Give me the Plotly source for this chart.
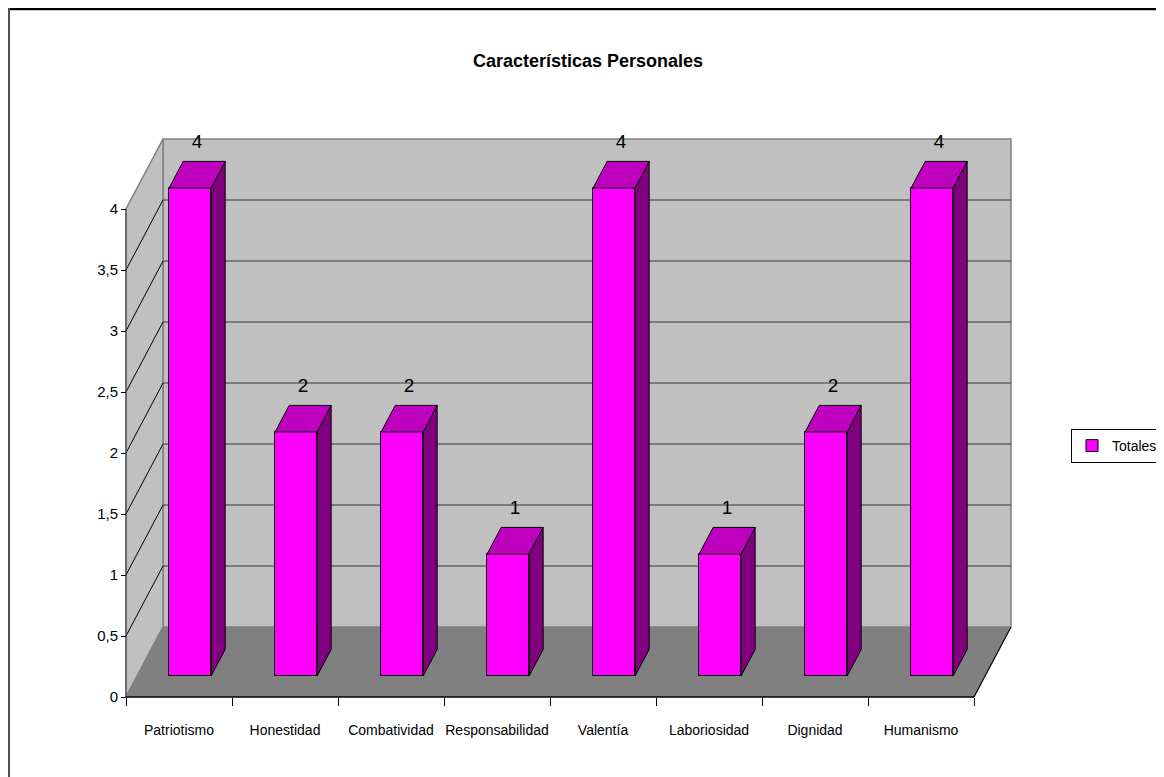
import plotly.graph_objects as go

# ---------------- data ----------------
categories = ["Patriotismo", "Honestidad", "Combatividad", "Responsabilidad",
              "Valentía", "Laboriosidad", "Dignidad", "Humanismo"]
values = [4, 2, 2, 1, 4, 1, 2, 4]
series_name = "Totales"
y_tick_vals = [0, 0.5, 1, 1.5, 2, 2.5, 3, 3.5, 4]
y_tick_text = ["0", "0,5", "1", "1,5", "2", "2,5", "3", "3,5", "4"]
title_text = "Características Personales"

# ---------------- geometry / style (reference pixel coords) ----------------
WIN_W, WIN_H = 1164, 777
OFF = 8                      # page body margin
FW, FH = WIN_W - OFF, WIN_H - OFF
X0PX, XUNIT = 126, 106      # pixel of the first category boundary, px per category
Y0PX, YUNIT = 697, 122      # pixel of value 0 on front axis, px per unit
L, R, T, B = 110, 1030, 128, 702   # plot area in pixels
DEPTH_DX = 37 / XUNIT
DEPTH_DY = 70 / YUNIT
BAR_F, BAR_B = 0.30, 0.68   # bar front / back depth fraction
BAR_W = 42 / XUNIT
WALL_TOP = 4

FONT = "Liberation Sans, Arial, sans-serif"
C_FRONT, C_TOP, C_SIDE = "#ff00ff", "#bf00bf", "#800080"
C_WALL, C_FLOOR, C_EDGE = "#c0c0c0", "#808080", "#808080"


def px2x(p):
    return (p - X0PX) / XUNIT - 0.5


def py2y(p):
    return (Y0PX - p) / YUNIT


def ppx(p):
    return (p - L) / (R - L)


def ppy(p):
    return (B - p) / (B - T)


n = len(categories)
xi = list(range(n))
base = BAR_F * DEPTH_DY
shift = BAR_F * DEPTH_DX
ddx = (BAR_B - BAR_F) * DEPTH_DX
ddy = (BAR_B - BAR_F) * DEPTH_DY
front_x = [i + shift for i in xi]

fig = go.Figure()

# front faces
fig.add_trace(go.Bar(
    x=front_x, y=values, base=base, width=BAR_W, name=series_name,
    marker=dict(color=C_FRONT, line=dict(color="black", width=1)),
    showlegend=True, hoverinfo="skip"))

# side and top faces derived from the data
sx, sy, tx, ty = [], [], [], []
for cx, v in zip(front_x, values):
    xl, xr = cx - BAR_W / 2, cx + BAR_W / 2
    top = base + v
    sx += [xr, xr + ddx, xr + ddx, xr, xr, None]
    sy += [base, base + ddy, top + ddy, top, base, None]
    tx += [xl, xr, xr + ddx, xl + ddx, xl, None]
    ty += [top, top, top + ddy, top + ddy, top, None]

fig.add_trace(go.Scatter(x=sx, y=sy, mode="lines", fill="toself", fillcolor=C_SIDE,
                         line=dict(color="black", width=1), showlegend=False, hoverinfo="skip"))
fig.add_trace(go.Scatter(x=tx, y=ty, mode="lines", fill="toself", fillcolor=C_TOP,
                         line=dict(color="black", width=1), showlegend=False, hoverinfo="skip"))

# value labels
fig.add_trace(go.Scatter(
    x=[cx + ddx / 2 for cx in front_x],
    y=[base + v + ddy + 0.07 for v in values],
    text=[str(v) for v in values], mode="text", textposition="top center",
    textfont=dict(family=FONT, size=19, color="black"),
    showlegend=False, hoverinfo="skip"))

# ---------------- walls / floor ----------------
xl0, xr0 = -0.5, n - 0.5
shapes = []
# back wall
shapes.append(dict(type="rect", xref="x", yref="y", layer="below",
                   x0=xl0 + DEPTH_DX, x1=xr0 + DEPTH_DX, y0=DEPTH_DY, y1=WALL_TOP + DEPTH_DY,
                   fillcolor=C_WALL, line=dict(color=C_EDGE, width=1.5)))
# left wall
shapes.append(dict(type="path", xref="x", yref="y", layer="below",
                   path=f"M {xl0},0 L {xl0 + DEPTH_DX},{DEPTH_DY} L {xl0 + DEPTH_DX},{WALL_TOP + DEPTH_DY} "
                        f"L {xl0},{WALL_TOP} Z",
                   fillcolor=C_WALL, line=dict(color=C_EDGE, width=1.5)))
# floor
shapes.append(dict(type="path", xref="x", yref="y", layer="below",
                   path=f"M {xl0},0 L {xr0},0 L {xr0 + DEPTH_DX},{DEPTH_DY} L {xl0 + DEPTH_DX},{DEPTH_DY} Z",
                   fillcolor=C_FLOOR, line=dict(width=0)))
shapes.append(dict(type="line", xref="x", yref="y", layer="below",
                   x0=xl0, y0=0, x1=xl0 + DEPTH_DX, y1=DEPTH_DY, line=dict(color=C_EDGE, width=1.5)))
shapes.append(dict(type="line", xref="x", yref="y", layer="below",
                   x0=xr0, y0=0, x1=xr0 + DEPTH_DX, y1=DEPTH_DY, line=dict(color="black", width=1.2)))
# gridlines
for v in y_tick_vals[1:-1]:
    shapes.append(dict(type="line", xref="x", yref="y", layer="below",
                       x0=xl0 + DEPTH_DX, x1=xr0 + DEPTH_DX, y0=v + DEPTH_DY, y1=v + DEPTH_DY,
                       line=dict(color="#383838", width=1.2)))
    shapes.append(dict(type="line", xref="x", yref="y", layer="below",
                       x0=xl0, x1=xl0 + DEPTH_DX, y0=v, y1=v + DEPTH_DY,
                       line=dict(color="black", width=1)))
# front axes lines
shapes.append(dict(type="line", xref="x", yref="y", layer="below",
                   x0=xl0, x1=xl0, y0=0, y1=WALL_TOP, line=dict(color="#505050", width=1.2)))
shapes.append(dict(type="line", xref="x", yref="y", layer="below",
                   x0=xl0, x1=xr0, y0=0, y1=0, line=dict(color="black", width=1.5)))
# outer chart border
shapes.append(dict(type="line", xref="paper", yref="paper", x0=ppx(OFF), x1=ppx(1200),
                   y0=ppy(OFF + 1), y1=ppy(OFF + 1), line=dict(color="black", width=2.5)))
shapes.append(dict(type="line", xref="paper", yref="paper", x0=ppx(OFF + 1), x1=ppx(OFF + 1),
                   y0=ppy(OFF), y1=ppy(800), line=dict(color="#505050", width=2)))

fig.update_layout(
    width=FW, height=FH,
    margin=dict(l=L - OFF, r=WIN_W - R, t=T - OFF, b=WIN_H - B, pad=0, autoexpand=False),
    paper_bgcolor="white", plot_bgcolor="white",
    font=dict(family=FONT, size=14, color="black"),
    title=dict(text=title_text, x=(588 - OFF) / FW, xanchor="center",
               y=1 - (61 - OFF) / FH, yanchor="middle",
               xref="container", yref="container",
               font=dict(family=FONT, size=18, color="black", weight="bold")),
    shapes=shapes,
    bargap=0,
    showlegend=True,
    legend=dict(x=ppx(1071), y=ppy(446), xanchor="left", yanchor="middle",
                bgcolor="white", bordercolor="black", borderwidth=1,
                font=dict(family=FONT, size=14, color="black"),
                itemwidth=30, tracegroupgap=0),
    xaxis=dict(range=[px2x(L), px2x(R)], anchor="free", position=ppy(697),
               tickmode="array", tickvals=xi, ticktext=categories, ticks="", tickangle=0,
               ticklabelstandoff=23, showline=False, showgrid=False, zeroline=False,
               automargin=False,
               tickfont=dict(family=FONT, size=14, color="black"),
               minor=dict(tickmode="linear", tick0=-0.5, dtick=1, ticks="outside",
                          ticklen=8, tickcolor="black", tickwidth=1, showgrid=False)),
    yaxis=dict(range=[py2y(B), py2y(T)], anchor="free", position=ppx(126),
               tickmode="array", tickvals=y_tick_vals, ticktext=y_tick_text,
               ticks="outside", ticklen=5, tickcolor="black", tickwidth=1,
               showline=False, showgrid=False, zeroline=False, automargin=False,
               tickfont=dict(family=FONT, size=15, color="black")),
)

fig.write_html("out.html")
